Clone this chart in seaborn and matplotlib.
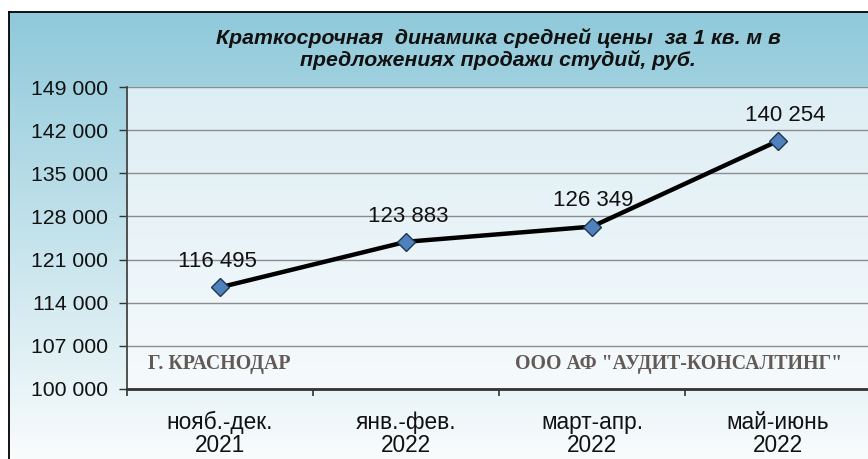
import numpy as np
import pandas as pd
import matplotlib
matplotlib.use('Agg')
import matplotlib.pyplot as plt
import seaborn as sns
from matplotlib.colors import LinearSegmentedColormap
from matplotlib.ticker import FixedLocator, FuncFormatter

# ---- data ----
periods = ['нояб.-дек.\n2021', 'янв.-фев.\n2022', 'март-апр.\n2022', 'май-июнь\n2022']
prices = [116495, 123883, 126349, 140254]
price_labels = ['116 495', '123 883', '126 349', '140 254']
y_ticks = [100000, 107000, 114000, 121000, 128000, 135000, 142000, 149000]
title_text = 'Краткосрочная  динамика средней цены  за 1 кв. м в\nпредложениях продажи студий, руб.'
left_note = 'Г. КРАСНОДАР'
right_note = 'ООО АФ "АУДИТ-КОНСАЛТИНГ"'

# label nudges (points)
label_dx = [-1.5, 1.5, 0.5, 5.0]

sns.set_theme(style='white')
plt.rcParams['font.family'] = ['Liberation Sans', 'DejaVu Sans']

W, H = 868, 459
fig = plt.figure(figsize=(W / 100, H / 100), dpi=100)
fig.patch.set_facecolor('white')

# outer chart area with gradient and frame
bg = fig.add_axes([9 / W, 0, 1 - 9 / W, (H - 12) / H], zorder=0)
grad = np.linspace(0, 1, 256).reshape(-1, 1)
bg.imshow(grad, aspect='auto', extent=[0, 1, 0, 1], origin='upper',
          cmap=LinearSegmentedColormap.from_list('bg', ['#8FC9DA', '#F9FCFD']))
bg.set_xlim(0, 1)
bg.set_ylim(0, 1)
bg.set_xticks([])
bg.set_yticks([])
for s in ['right', 'bottom']:
    bg.spines[s].set_visible(False)
for s in ['left', 'top']:
    bg.spines[s].set_visible(True)
    bg.spines[s].set_color('black')
    bg.spines[s].set_linewidth(1.3)

# plot area
pos = [127 / W, (H - 389) / H, (871 - 127) / W, (389 - 87) / H]
pa = fig.add_axes(pos, zorder=1)
pa.imshow(grad, aspect='auto', extent=[0, 1, 0, 1], origin='upper',
          cmap=LinearSegmentedColormap.from_list('pa', ['#DDEEF4', '#F6FAFC']))
pa.set_xlim(0, 1)
pa.set_ylim(0, 1)
pa.set_axis_off()

ax = fig.add_axes(pos, zorder=2)
ax.patch.set_alpha(0)

df = pd.DataFrame({'x': np.arange(len(prices)), 'price': prices})
sns.lineplot(data=df, x='x', y='price', ax=ax, color='black', lw=3.2,
             marker='D', markersize=9.5, markerfacecolor='#4F81BD',
             markeredgecolor='#1F3550', markeredgewidth=1.0, zorder=5)

ax.set_xlim(-0.5, len(prices) - 0.5)
ax.set_ylim(y_ticks[0], y_ticks[-1])
ax.set_yticks(y_ticks)
ax.yaxis.set_major_formatter(FuncFormatter(lambda v, p: f'{int(v):,}'.replace(',', ' ')))
ax.set_xticks(np.arange(len(periods)))
ax.set_xticklabels(periods, fontsize=16.3, color='#111111', linespacing=1.0)
ax.xaxis.set_minor_locator(FixedLocator(np.arange(-0.5, len(periods), 1.0)))
ax.tick_params(axis='x', which='major', length=0, pad=15.5)
ax.tick_params(axis='x', which='minor', length=5, width=1.2, color='#333333', direction='out', bottom=True)
ax.tick_params(axis='y', which='major', length=6, width=1.0, color='#333333', direction='out',
               left=True, labelsize=15.3, labelcolor='#111111', pad=7.5)
ax.set_xlabel('')
ax.set_ylabel('')
ax.grid(axis='y', color='#8C8C8C', lw=1.0)
ax.grid(axis='x', visible=False)
ax.spines['top'].set_visible(False)
ax.spines['right'].set_visible(False)
ax.spines['left'].set_color('#444444')
ax.spines['left'].set_linewidth(1.3)
ax.spines['bottom'].set_color('#333333')
ax.spines['bottom'].set_linewidth(2.0)

for i, (v, lab) in enumerate(zip(prices, price_labels)):
    ax.annotate(lab, (i, v), xytext=(label_dx[i], 18.5), textcoords='offset points',
                ha='center', va='center', fontsize=16, color='#111111')

fig.text(148 / W, 1 - 364 / H, left_note, ha='left', va='center',
         fontsize=14.3, fontweight='bold', family=['Liberation Serif', 'DejaVu Serif'], color='#625A56')
fig.text(842 / W, 1 - 364 / H, right_note, ha='right', va='center',
         fontsize=14.3, fontweight='bold', family=['Liberation Serif', 'DejaVu Serif'], color='#625A56')

fig.text(498 / W, 1 - 49 / H, title_text, ha='center', va='center', fontsize=15.3,
         fontweight='bold', fontstyle='italic', linespacing=1.12, color='#111111')

fig.savefig('out.png', dpi=100)
